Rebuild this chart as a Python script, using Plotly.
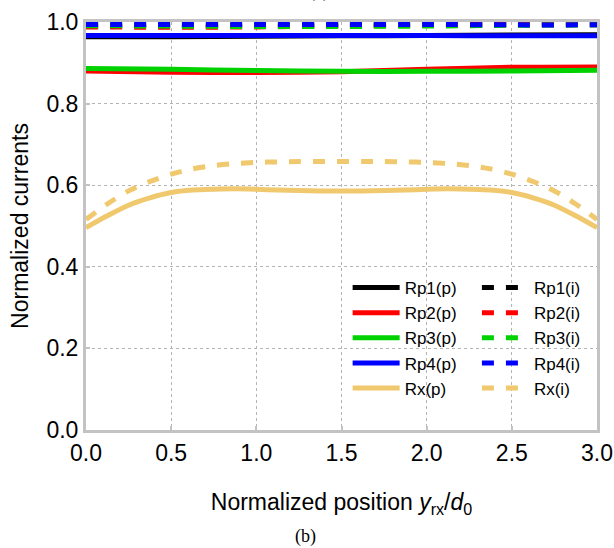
import plotly.graph_objects as go

# Normalized receiver position y_rx / d0
x_rp = [0.0, 0.5, 1.0, 1.5, 2.0, 2.5, 3.0]
x_rx = [0.0, 0.125, 0.25, 0.375, 0.5, 0.625, 0.75, 0.875, 1.0, 1.125, 1.25, 1.375, 1.5,
        1.625, 1.75, 1.875, 2.0, 2.125, 2.25, 2.375, 2.5, 2.625, 2.75, 2.875, 3.0]

# Power-transfer (p) normalized currents
rp1_p = [0.964, 0.964, 0.965, 0.966, 0.967, 0.968, 0.969]
rp2_p = [0.880, 0.877, 0.876, 0.878, 0.884, 0.889, 0.890]
rp3_p = [0.886, 0.884, 0.881, 0.879, 0.879, 0.880, 0.882]
rp4_p = [0.967, 0.967, 0.967, 0.967, 0.967, 0.966, 0.966]
rx_p = [0.496, 0.525, 0.551, 0.569, 0.582, 0.588, 0.590, 0.591, 0.590, 0.588, 0.587, 0.586, 0.586,
        0.586, 0.587, 0.588, 0.590, 0.591, 0.590, 0.588, 0.582, 0.569, 0.551, 0.525, 0.496]

# Ideal (i) normalized currents
rp1_i = [0.990, 0.991, 0.991, 0.992, 0.993, 0.993, 0.993]
rp2_i = [0.988, 0.987, 0.988, 0.990, 0.992, 0.994, 0.995]
rp3_i = [0.991, 0.990, 0.989, 0.989, 0.990, 0.992, 0.993]
rp4_i = [0.994, 0.994, 0.994, 0.994, 0.994, 0.993, 0.993]
rx_i = [0.516, 0.554, 0.586, 0.609, 0.627, 0.640, 0.648, 0.653, 0.656, 0.657, 0.658, 0.658, 0.658,
        0.658, 0.658, 0.657, 0.656, 0.653, 0.648, 0.640, 0.627, 0.609, 0.586, 0.554, 0.516]

x_ticks = [0.0, 0.5, 1.0, 1.5, 2.0, 2.5, 3.0]
y_ticks = [0.0, 0.2, 0.4, 0.6, 0.8, 1.0]

BLACK, RED, GREEN, BLUE, GOLD = "#000000", "#ff0000", "#00d200", "#0000ff", "#f0c86e"
SANS = "Liberation Sans, Arial, sans-serif"
SERIF = "Liberation Serif, Times New Roman, serif"
DASH = "12px,12px"
LW = 5

fig = go.Figure()

solid = [("Rp1(p)", x_rp, rp1_p, BLACK), ("Rp2(p)", x_rp, rp2_p, RED),
         ("Rp3(p)", x_rp, rp3_p, GREEN), ("Rp4(p)", x_rp, rp4_p, BLUE),
         ("Rx(p)", x_rx, rx_p, GOLD)]
dashed = [("Rp1(i)", x_rp, rp1_i, BLACK), ("Rp2(i)", x_rp, rp2_i, RED),
          ("Rp3(i)", x_rp, rp3_i, GREEN), ("Rp4(i)", x_rp, rp4_i, BLUE),
          ("Rx(i)", x_rx, rx_i, GOLD)]

for name, xs, ys, c in solid:
    fig.add_trace(go.Scatter(x=xs, y=ys, name=name, mode="lines",
                             line=dict(color=c, width=LW, shape="spline", smoothing=0.8),
                             legend="legend"))
for name, xs, ys, c in dashed:
    fig.add_trace(go.Scatter(x=xs, y=ys, name=name, mode="lines",
                             line=dict(color=c, width=LW, dash=DASH, shape="spline", smoothing=0.8),
                             legend="legend2"))

axis_common = dict(
    showline=True, linecolor="#c3c3c3", linewidth=3, mirror=True,
    ticks="inside", ticklen=4, tickwidth=2, tickcolor="#c3c3c3",
    showgrid=True, gridcolor="#b4b4b4", gridwidth=1, griddash="dot",
    zeroline=False, automargin=False,
    tickfont=dict(family=SANS, size=23, color="#000000"),
)

legend_common = dict(
    bgcolor="rgba(0,0,0,0)", borderwidth=0, orientation="v",
    font=dict(family=SANS, size=17, color="#000000"),
    xanchor="left", yanchor="top", tracegroupgap=0, itemwidth=47,
)

fig.update_layout(
    width=614, height=548,
    margin=dict(l=86, r=17, t=22, b=118),
    paper_bgcolor="white", plot_bgcolor="white",
    xaxis=dict(range=[0, 3], tickvals=x_ticks, ticktext=[f"{v:.1f}" for v in x_ticks],
               title=dict(text="Normalized position <i>y</i><sub>rx</sub>/<i>d</i><sub>0</sub>",
                          font=dict(family=SANS, size=23, color="#000000"), standoff=30),
               **axis_common),
    yaxis=dict(range=[0, 1.0], tickvals=y_ticks, ticktext=[f"{v:.1f}" for v in y_ticks],
               title=dict(text="Normalized currents",
                          font=dict(family=SANS, size=23, color="#000000"), standoff=12),
               **axis_common),
    legend=dict(x=0.512, y=0.392, **legend_common),
    legend2=dict(x=0.765, y=0.392, **legend_common),
    annotations=[
        dict(text="(b)", xref="paper", yref="paper", x=0.43, y=-0.26, yanchor="middle",
             showarrow=False, font=dict(family=SERIF, size=18, color="#000000")),
        dict(text="(a)", xref="paper", yref="paper", x=0.455, y=1.044, yanchor="bottom",
             showarrow=False, font=dict(family=SERIF, size=18, color="#000000")),
    ],
)

fig.write_html("out.html")
